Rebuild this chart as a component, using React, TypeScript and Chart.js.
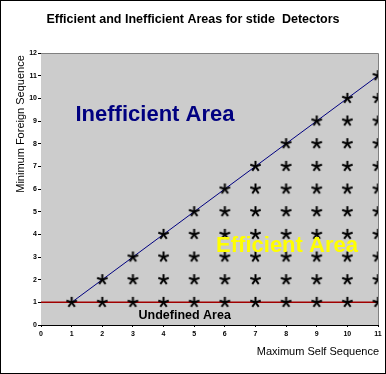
import React, { useEffect, useRef } from "react";
import { Chart, registerables } from "chart.js";

Chart.register(...registerables);

// ---- Data ----
const selfSequence = [1, 2, 3, 4, 5, 6, 7, 8, 9, 10, 11];
// Minimum foreign sequence values marked with "*" in each column
const starColumns: number[][] = [
  [1],
  [1, 2],
  [1, 2, 3],
  [1, 2, 3, 4],
  [1, 2, 3, 4, 5],
  [1, 2, 3, 4, 5, 6],
  [1, 2, 3, 4, 5, 6, 7],
  [1, 2, 3, 4, 5, 6, 7, 8],
  [1, 2, 3, 4, 5, 6, 7, 8, 9],
  [1, 2, 3, 4, 5, 6, 7, 8, 9, 10],
  [1, 2, 3, 4, 5, 6, 7, 8, 9, 10, 11],
];
const boundaryX = [1, 11];
const boundaryY = [1, 11];
const undefinedLineX = [0, 11];
const undefinedLineY = [1, 1];
const xTicks = [0, 1, 2, 3, 4, 5, 6, 7, 8, 9, 10, 11];
const yTicks = [0, 1, 2, 3, 4, 5, 6, 7, 8, 9, 10, 11, 12];

const TITLE = "Efficient and Inefficient Areas for stide  Detectors";
const X_TITLE = "Maximum Self Sequence";
const Y_TITLE = "Minimum Foreign Sequence";

const FONT = "'Liberation Sans', Arial, sans-serif";

function makeStar(): HTMLCanvasElement {
  const c = document.createElement("canvas");
  c.width = 13;
  c.height = 13;
  const g = c.getContext("2d")!;
  g.strokeStyle = "#000000";
  g.lineWidth = 2;
  g.lineCap = "butt";
  const cx = 6.5, cy = 6.5, r = 5.5;
  for (let k = 0; k < 5; k++) {
    const a = ((-90 + k * 72) * Math.PI) / 180;
    g.beginPath();
    g.moveTo(cx, cy);
    g.lineTo(cx + r * Math.cos(a), cy + r * Math.sin(a));
    g.stroke();
  }
  return c;
}

const decorPlugin = {
  id: "decor",
  beforeDatasetsDraw(chart: any) {
    const { ctx, chartArea } = chart;
    ctx.save();
    ctx.fillStyle = "#cccccc";
    ctx.fillRect(chartArea.left, chartArea.top, chartArea.right - chartArea.left, chartArea.bottom - chartArea.top);
    ctx.strokeStyle = "#808080";
    ctx.lineWidth = 1;
    ctx.beginPath();
    ctx.moveTo(chartArea.left, chartArea.top + 0.5);
    ctx.lineTo(chartArea.right + 0.5, chartArea.top + 0.5);
    ctx.lineTo(chartArea.right + 0.5, chartArea.bottom);
    ctx.stroke();
    ctx.restore();
  },
  afterDraw(chart: any) {
    const { ctx, chartArea, scales } = chart;
    const xs = scales.x, ys = scales.y;
    ctx.save();
    ctx.textBaseline = "alphabetic";
    // title
    ctx.fillStyle = "#000000";
    ctx.textAlign = "center";
    ctx.font = `bold 12.5px ${FONT}`;
    ctx.fillText(TITLE, 192, 22);
    // x title
    ctx.textAlign = "right";
    ctx.font = `11px ${FONT}`;
    ctx.fillText(X_TITLE, chartArea.right + 1, 354);
    // y title
    ctx.save();
    ctx.translate(23, 123);
    ctx.rotate(-Math.PI / 2);
    ctx.textAlign = "center";
    ctx.fillText(Y_TITLE, 0, 0);
    ctx.restore();
    // area labels
    ctx.textAlign = "center";
    ctx.font = `bold 22px ${FONT}`;
    ctx.fillStyle = "#000080";
    ctx.fillText("Inefficient Area", xs.getPixelForValue(3.72), ys.getPixelForValue(9.0));
    ctx.fillStyle = "#ffff00";
    ctx.fillText("Efficient Area", xs.getPixelForValue(8.03), ys.getPixelForValue(3.22));
    ctx.fillStyle = "#000000";
    ctx.font = `bold 12.5px ${FONT}`;
    ctx.fillText("Undefined Area", xs.getPixelForValue(4.69), ys.getPixelForValue(0.26));
    ctx.restore();
  },
};

export default function App() {
  const ref = useRef<HTMLCanvasElement | null>(null);

  useEffect(() => {
    document.body.style.margin = "0";
    const star = makeStar();
    const starData: { x: number; y: number }[] = [];
    selfSequence.forEach((sx, i) => {
      starColumns[i].forEach((fy) => starData.push({ x: sx, y: fy }));
    });
    const chart = new Chart(ref.current!, {
      type: "scatter",
      data: {
        datasets: [
          {
            label: "stars",
            data: starData,
            pointStyle: star as any,
            pointRadius: 6,
            showLine: false,
            order: 0,
          },
          {
            label: "boundary",
            data: boundaryX.map((x, i) => ({ x, y: boundaryY[i] })),
            showLine: true,
            borderColor: "#000080",
            borderWidth: 1,
            pointRadius: 0,
            order: 1,
          },
          {
            label: "undefined",
            data: undefinedLineX.map((x, i) => ({ x, y: undefinedLineY[i] })),
            showLine: true,
            borderColor: "#a00000",
            borderWidth: 1.5,
            pointRadius: 0,
            order: 2,
          },
        ],
      },
      options: {
        animation: false,
        responsive: false,
        devicePixelRatio: 1,
        layout: { padding: { left: 0, top: 52, right: 4, bottom: 0 } },
        plugins: { legend: { display: false }, tooltip: { enabled: false }, title: { display: false } },
        scales: {
          x: {
            type: "linear",
            min: 0,
            max: 11,
            afterFit: (s: any) => { s.height = 48; },
            afterBuildTicks: (s: any) => { s.ticks = xTicks.map((v) => ({ value: v })); },
            grid: { display: true, drawOnChartArea: false, drawTicks: true, tickLength: 2, color: "#000000" },
            border: { display: true, color: "#000000", width: 1 },
            ticks: { color: "#000000", padding: 3, font: { family: FONT, size: 7, weight: "bold" }, maxRotation: 0 },
          },
          y: {
            type: "linear",
            min: 0,
            max: 12,
            afterFit: (s: any) => { s.width = 40; },
            afterBuildTicks: (s: any) => { s.ticks = yTicks.map((v) => ({ value: v })); },
            grid: { display: true, drawOnChartArea: false, drawTicks: true, tickLength: 3, color: "#000000" },
            border: { display: true, color: "#000000", width: 1 },
            ticks: { color: "#000000", padding: 1, font: { family: FONT, size: 7, weight: "bold" } },
          },
        },
      } as any,
      plugins: [decorPlugin],
    });
    return () => chart.destroy();
  }, []);

  return (
    <div
      style={{
        position: "absolute",
        left: 0,
        top: 0,
        width: 386,
        height: 374,
        boxSizing: "border-box",
        border: "1px solid #000",
        background: "#ffffff",
      }}
    >
      <canvas ref={ref} width={384} height={372} style={{ display: "block", width: 384, height: 372 }} />
    </div>
  );
}
